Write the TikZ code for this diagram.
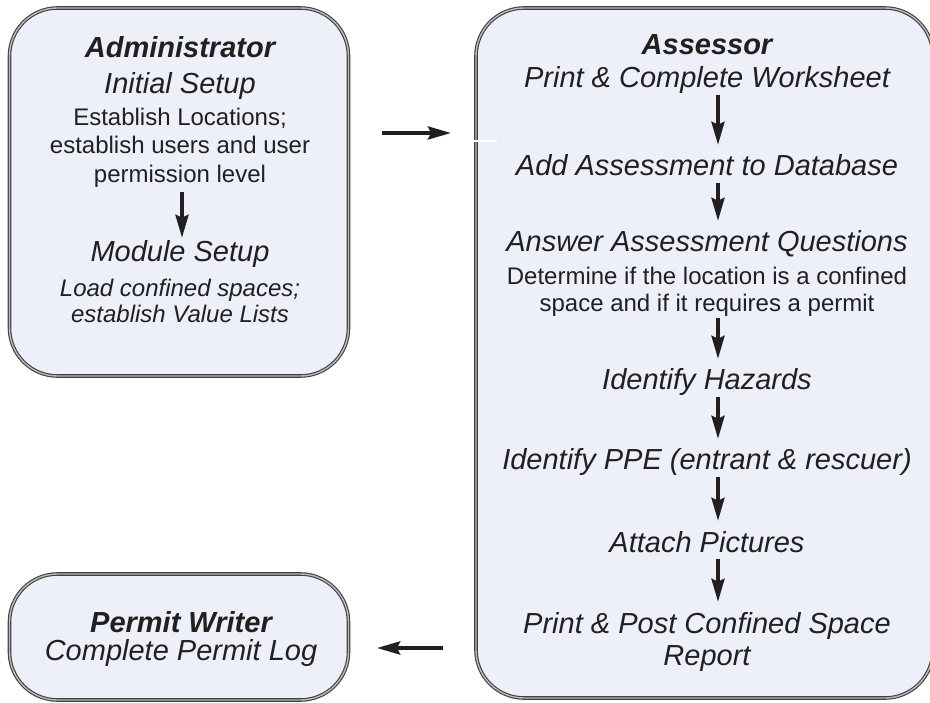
\documentclass[tikz,border=0pt]{standalone}
\usepackage{fontspec}
\setmainfont{Liberation Sans}
\usetikzlibrary{arrows.meta}

\definecolor{panelfill}{HTML}{EDF0F8}
\definecolor{ink}{HTML}{231F20}

\tikzset{
    panel/.style={draw=black!75, double=gray!55, double distance=1.4pt, line width=1.1pt,
        fill=panelfill, rounded corners=48pt, inner sep=0pt},
    flow/.style={draw=ink, line width=3.6pt, -{Stealth[length=23pt,width=13pt,inset=3pt]}},
    down/.style={flow, shorten <=1pt, shorten >=10pt},
    role/.style={anchor=base, inner sep=0pt, text=ink, font=\fontsize{29}{33}\selectfont\bfseries\itshape},
    task/.style={anchor=base, inner sep=0pt, text=ink, text height=21pt, text depth=6pt,
        font=\fontsize{29}{33}\selectfont\itshape},
    note/.style={anchor=base, inner sep=0pt, text=ink, text height=17pt, text depth=5pt,
        font=\fontsize{24}{28}\selectfont},
    inote/.style={note, font=\fontsize{24}{28}\selectfont\itshape},
}

\begin{document}
\begin{tikzpicture}[x=1pt, y=-1pt]
    \clip (0,0) rectangle (930,703);

    % the three panels
    \node[panel, minimum width=339pt, minimum height=368pt] (adminbox) at (179,192) {};
    \node[panel, minimum width=457pt, minimum height=690pt] (assessorbox) at (704.5,353) {};
    \node[panel, minimum width=339pt, minimum height=126pt] (permitbox) at (179,637) {};

    % administrator
    \node[role] (admin) at (180,58) {Administrator};
    \node[task] (init) at (180,94) {Initial Setup};
    \node[note] (init1) at (180,126) {Establish Locations;};
    \node[note] (init2) at (180,154) {establish users and user};
    \node[note] (init3) at (180,183) {permission level};
    \node[task] (module) at (180,262) {Module Setup};
    \node[inote] (module1) at (180,297) {Load confined spaces;};
    \node[inote] (module2) at (180,323) {establish Value Lists};

    \draw[flow, shorten <=4pt, shorten >=3pt] ([xshift=2pt]init3.south) -- ([xshift=2pt]module.north);

    % assessor
    \node[role] (assessor) at (707,55) {Assessor};
    \node[task] (print) at (707,88) {Print \& Complete Worksheet};
    \node[task] (adddb) at (707,176) {Add Assessment to Database};
    \node[task] (answer) at (707,252) {Answer Assessment Questions};
    \node[note] (answer1) at (707,285) {Determine if the location is a confined};
    \node[note] (answer2) at (707,312) {space and if it requires a permit};
    \node[task] (hazards) at (707,390) {Identify Hazards};
    \node[task] (ppe) at (707,470) {Identify PPE (entrant \& rescuer)};
    \node[task] (pictures) at (707,552) {Attach Pictures};
    \node[task] (report1) at (707,633) {Print \& Post Confined Space};
    \node[task] (report2) at (707,665) {Report};

    \draw[down] ([xshift=11pt]print.south) -- ([xshift=11pt]adddb.north);
    \draw[down] ([xshift=11pt]adddb.south) -- ([xshift=11pt]answer.north);
    \draw[down] ([xshift=11pt]answer2.south) -- ([xshift=11pt]hazards.north);
    \draw[down] ([xshift=11pt]hazards.south) -- ([xshift=11pt]ppe.north);
    \draw[down] ([xshift=11pt]ppe.south) -- ([xshift=11pt]pictures.north);
    \draw[down] ([xshift=11pt]pictures.south) -- ([xshift=11pt]report1.north);

    % permit writer
    \node[role] (writer) at (181,632) {Permit Writer};
    \node[task] (permitlog) at (181,660) {Complete Permit Log};

    % between the panels
    \draw[flow, shorten <=33pt, shorten >=24.5pt] (adminbox.east |- 0,133) -- (assessorbox.west |- 0,133);
    \draw[flow, shorten <=32.5pt, shorten >=28pt] (assessorbox.west |- 0,648) -- (permitbox.east |- 0,648);
    \draw[white, line width=2pt] (473,141) -- (497,141);
\end{tikzpicture}
\end{document}
